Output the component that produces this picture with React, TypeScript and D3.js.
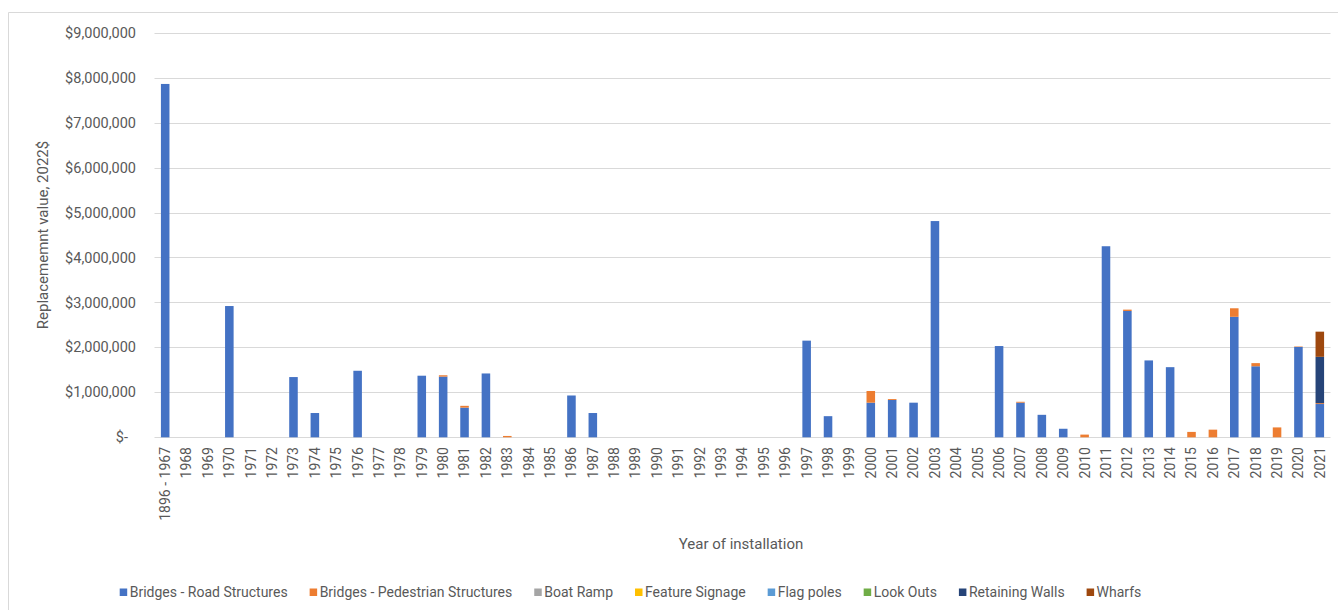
import React, { useEffect, useRef } from "react";
import * as d3 from "d3";

// Installation-year categories (first bucket groups everything up to 1967)
const categories: string[] = [
  "1896 - 1967", "1968", "1969", "1970", "1971", "1972", "1973", "1974", "1975", "1976",
  "1977", "1978", "1979", "1980", "1981", "1982", "1983", "1984", "1985", "1986",
  "1987", "1988", "1989", "1990", "1991", "1992", "1993", "1994", "1995", "1996",
  "1997", "1998", "1999", "2000", "2001", "2002", "2003", "2004", "2005", "2006",
  "2007", "2008", "2009", "2010", "2011", "2012", "2013", "2014", "2015", "2016",
  "2017", "2018", "2019", "2020", "2021",
];

// Replacement value (2022 $) per asset class, listed as [category, value]
const roadStructures: [string, number][] = [
  ["1896 - 1967", 7860000], ["1970", 2920000], ["1973", 1340000], ["1974", 540000],
  ["1976", 1480000], ["1979", 1370000], ["1980", 1350000], ["1981", 660000],
  ["1982", 1420000], ["1986", 930000], ["1987", 540000], ["1997", 2150000],
  ["1998", 470000], ["2000", 770000], ["2001", 830000], ["2002", 770000],
  ["2003", 4810000], ["2006", 2030000], ["2007", 770000], ["2008", 500000],
  ["2009", 190000], ["2011", 4250000], ["2012", 2810000], ["2013", 1710000],
  ["2014", 1560000], ["2017", 2680000], ["2018", 1580000], ["2020", 2010000],
  ["2021", 740000],
];
const pedestrianStructures: [string, number][] = [
  ["1980", 30000], ["1981", 40000], ["1983", 30000], ["2000", 260000],
  ["2001", 20000], ["2007", 20000], ["2010", 60000], ["2012", 30000],
  ["2015", 120000], ["2016", 170000], ["2017", 190000], ["2018", 70000],
  ["2019", 220000], ["2020", 10000], ["2021", 20000],
];
const boatRamp: [string, number][] = [];
const featureSignage: [string, number][] = [];
const flagPoles: [string, number][] = [];
const lookOuts: [string, number][] = [];
const retainingWalls: [string, number][] = [["2021", 1030000]];
const wharfs: [string, number][] = [["2021", 560000]];

const seriesNames = [
  "Bridges - Road Structures",
  "Bridges - Pedestrian Structures",
  "Boat Ramp",
  "Feature Signage",
  "Flag poles",
  "Look Outs",
  "Retaining Walls",
  "Wharfs",
];
const seriesData = [
  roadStructures, pedestrianStructures, boatRamp, featureSignage,
  flagPoles, lookOuts, retainingWalls, wharfs,
];
const seriesColors = [
  "#4472C4", "#ED7D31", "#A5A5A5", "#FFC000",
  "#5B9BD5", "#70AD47", "#264478", "#9E480E",
];

const yTicks = [0, 1e6, 2e6, 3e6, 4e6, 5e6, 6e6, 7e6, 8e6, 9e6];

const FONT = "Roboto, 'Liberation Sans', sans-serif";
const TEXT = "#595959";
const GRID = "#D9D9D9";

export default function App() {
  const ref = useRef<SVGSVGElement>(null);

  useEffect(() => {
    const svg = d3.select(ref.current!);
    svg.selectAll("*").remove();

    const plot = { left: 154.5, right: 1330.5, top: 32.7, bottom: 437.3 };

    const x = d3.scaleBand<string>()
      .domain(categories)
      .range([plot.left, plot.right])
      .paddingInner(0.6)
      .paddingOuter(0.3);

    const y = d3.scaleLinear().domain([0, 9e6]).range([plot.bottom, plot.top]);

    // one row per category with a value per series
    const rows = categories.map((c) => {
      const r: Record<string, number | string> = { category: c };
      seriesNames.forEach((name, i) => {
        const hit = seriesData[i].find((d) => d[0] === c);
        r[name] = hit ? hit[1] : 0;
      });
      return r;
    });

    const stacked = d3.stack<Record<string, number | string>>()
      .keys(seriesNames)
      .value((d, k) => d[k] as number)(rows);

    // chart frame
    svg.append("path")
      .attr("d", "M8.5,610 V12.5 H1338")
      .attr("fill", "none")
      .attr("stroke", GRID)
      .attr("stroke-width", 1);

    // gridlines
    svg.append("g").selectAll("line")
      .data(yTicks)
      .join("line")
      .attr("x1", plot.left)
      .attr("x2", plot.right)
      .attr("y1", (d) => Math.round(y(d)) + 0.5)
      .attr("y2", (d) => Math.round(y(d)) + 0.5)
      .attr("stroke", GRID)
      .attr("stroke-width", 1.2);

    // y tick labels (accounting style: zero shown as "$-")
    const fmt = d3.format("$,.0f");
    svg.append("g").selectAll("text")
      .data(yTicks)
      .join("text")
      .attr("x", (d) => (d === 0 ? 128 : 136))
      .attr("y", (d) => y(d))
      .attr("dy", "0.35em")
      .attr("text-anchor", "end")
      .attr("font-family", FONT)
      .attr("font-size", 14.5)
      .attr("fill", TEXT)
      .text((d) => (d === 0 ? "$-" : fmt(d)));

    // stacked bars
    const bw = x.bandwidth();
    svg.append("g").selectAll("g")
      .data(stacked)
      .join("g")
      .attr("fill", (_, i) => seriesColors[i])
      .selectAll("rect")
      .data((s) => s.filter((d) => d[1] - d[0] > 0))
      .join("rect")
      .attr("x", (d) => x(d.data.category as string)!)
      .attr("width", bw)
      .attr("y", (d) => y(d[1]))
      .attr("height", (d) => y(d[0]) - y(d[1]));

    // x category labels
    svg.append("g").selectAll("text")
      .data(categories)
      .join("text")
      .attr("transform", (c) => `translate(${x(c)! + bw / 2},447) rotate(-90)`)
      .attr("dy", "0.35em")
      .attr("text-anchor", "end")
      .attr("font-family", FONT)
      .attr("font-size", 14)
      .attr("fill", TEXT)
      .text((c) => c);

    // axis titles
    svg.append("text")
      .attr("transform", "translate(43,235) rotate(-90)")
      .attr("dy", "0.35em")
      .attr("text-anchor", "middle")
      .attr("font-family", FONT)
      .attr("font-size", 15)
      .attr("fill", TEXT)
      .text("Replacememnt value, 2022$");

    svg.append("text")
      .attr("x", 741)
      .attr("y", 549)
      .attr("text-anchor", "middle")
      .attr("font-family", FONT)
      .attr("font-size", 15)
      .attr("fill", TEXT)
      .text("Year of installation");

    // legend, laid out from measured label widths and centred under the plot
    const legend = svg.append("g");
    const items = seriesNames.map((name, i) => {
      const g = legend.append("g");
      g.append("rect")
        .attr("width", 7.5)
        .attr("height", 7.5)
        .attr("y", 588.5)
        .attr("fill", seriesColors[i]);
      const t = g.append("text")
        .attr("x", 10)
        .attr("y", 597)
        .attr("font-family", FONT)
        .attr("font-size", 14)
        .attr("fill", TEXT)
        .text(name);
      const w = (t.node() as SVGTextElement).getComputedTextLength();
      return { g, w: 10 + w };
    });
    const gap = 22;
    const total = d3.sum(items, (d) => d.w) + gap * (items.length - 1);
    let cx = 630.5 - total / 2;
    items.forEach((it) => {
      it.g.attr("transform", `translate(${cx},0)`);
      cx += it.w + gap;
    });
  }, []);

  return (
    <svg
      ref={ref}
      width={1338}
      height={610}
      style={{ position: "absolute", left: 0, top: 0, background: "#fff" }}
    />
  );
}
